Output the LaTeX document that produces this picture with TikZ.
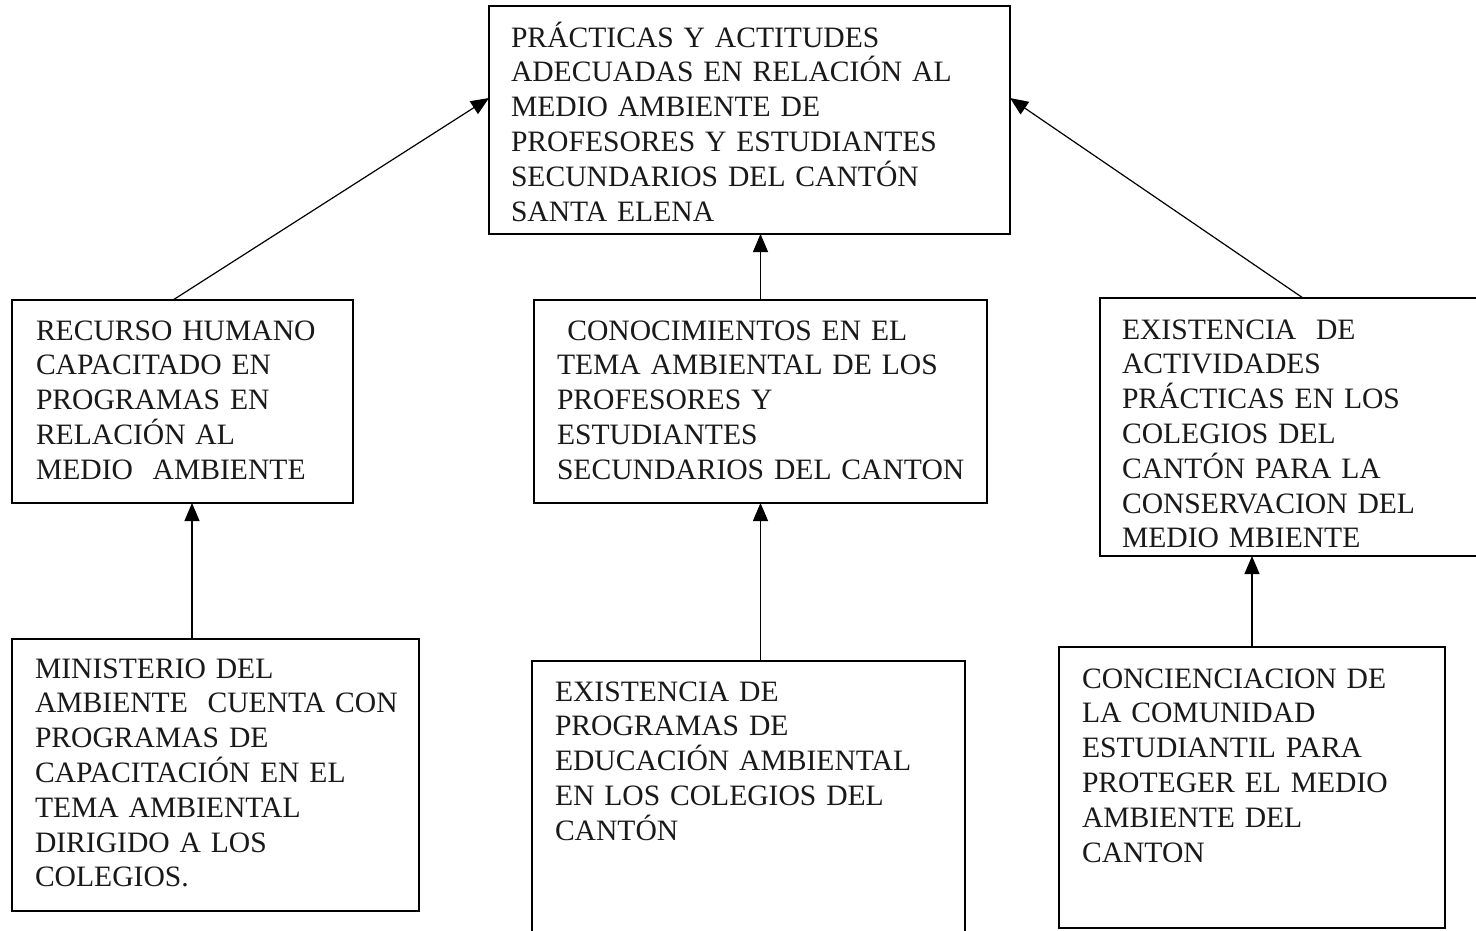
\documentclass[tikz,border=0pt]{standalone}
\usepackage{fontspec}
\setmainfont{Liberation Serif}
\usetikzlibrary{arrows.meta,calc}
\tikzset{
  box/.style={draw, line width=1.3pt, inner sep=0pt, outer sep=0pt},
  txt/.style={anchor=base west, inner sep=0pt, outer sep=0pt, text width=560pt, align=left,
    font=\fontsize{29.6}{34.8}\selectfont, text=black!90},
  arr/.style={line width=1.2pt, -{Triangle[width=15pt,length=18pt]}}
}
\begin{document}
\begin{tikzpicture}[x=1pt,y=-1pt]
\useasboundingbox (0,0) rectangle (1476,930);
% boxes
\node[box, minimum width=521pt, minimum height=228pt] (top) at (749.5,120) {};
\node[box, minimum width=341pt, minimum height=203pt] (lm) at (182.5,401.5) {};
\node[box, minimum width=453pt, minimum height=203pt] (cm) at (760.5,401.5) {};
\node[box, minimum width=390pt, minimum height=258pt] (rm) at (1295,427) {};
\node[box, minimum width=407pt, minimum height=272pt] (bl) at (215.5,775) {};
\node[box, minimum width=433pt, minimum height=280pt] (bc) at (748.5,801) {};
\node[box, minimum width=386pt, minimum height=281pt] (br) at (1252,787.5) {};
% texts
\node[txt] (ttop) at (511,47) {PRÁCTICAS Y ACTITUDES\\ADECUADAS EN RELACIÓN AL\\MEDIO AMBIENTE DE\\PROFESORES Y ESTUDIANTES\\SECUNDARIOS DEL CANTÓN\\SANTA ELENA};
\node[txt] (tlm) at (36,340) {RECURSO HUMANO\\CAPACITADO EN\\PROGRAMAS EN\\RELACIÓN AL\\MEDIO\ \ AMBIENTE};
\node[txt] (tcm) at (557,340) {\hspace*{0.35em}CONOCIMIENTOS EN EL\\TEMA AMBIENTAL DE LOS\\PROFESORES Y\\ESTUDIANTES\\SECUNDARIOS DEL CANTON};
\node[txt] (trm) at (1122,339) {EXISTENCIA\ \ DE\\ACTIVIDADES\\PRÁCTICAS EN LOS\\COLEGIOS DEL\\CANTÓN PARA LA\\CONSERVACION DEL\\MEDIO MBIENTE};
\node[txt] (tbl) at (35,678) {MINISTERIO DEL\\AMBIENTE\ \ CUENTA CON\\PROGRAMAS DE\\CAPACITACIÓN EN EL\\TEMA AMBIENTAL\\DIRIGIDO A LOS\\COLEGIOS.};
\node[txt] (tbc) at (555,701) {EXISTENCIA DE\\PROGRAMAS DE\\EDUCACIÓN AMBIENTAL\\EN LOS COLEGIOS DEL\\CANTÓN};
\node[txt] (tbr) at (1082,688) {CONCIENCIACION DE\\LA COMUNIDAD\\ESTUDIANTIL PARA\\PROTEGER EL MEDIO\\AMBIENTE DEL\\CANTON};
% connector end points
\coordinate (lmt) at ([xshift=161pt]lm.north west);
\coordinate (topl) at ([yshift=-92pt]top.north west);
\coordinate (rmt) at ([xshift=203pt]rm.north west);
\coordinate (topr) at ([yshift=-92pt]top.north east);
\coordinate (blt) at ([xshift=180pt]bl.north west);
% connectors
\draw[arr] (lmt) -- (topl);
\draw[arr] (cm.north) -- (top.south -| cm.north);
\draw[arr] (rmt) -- (topr);
\draw[arr] (blt) -- (lm.south -| blt);
\draw[arr] (bc.north -| cm.north) -- (cm.south);
\draw[arr] (br.north) -- (rm.south -| br.north);
\end{tikzpicture}
\end{document}
